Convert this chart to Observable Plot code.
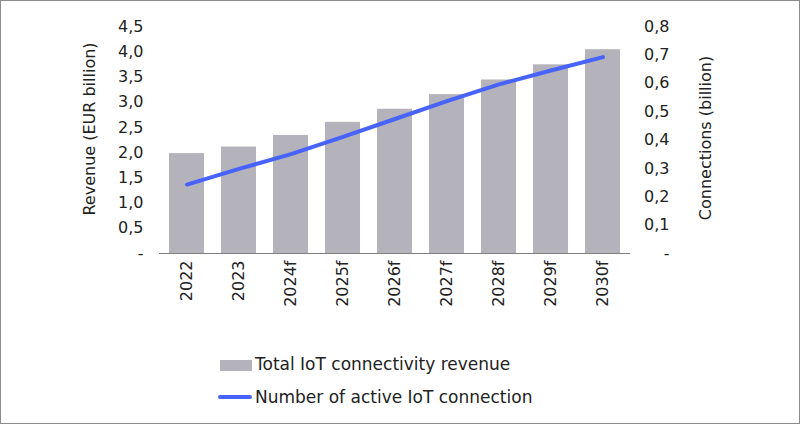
<!DOCTYPE html>
<html>
<head>
<meta charset="utf-8">
<script src="https://cdn.jsdelivr.net/npm/d3@7"></script>
<script src="https://cdn.jsdelivr.net/npm/@observablehq/plot@0.6"></script>
<style>
  html, body { margin: 0; padding: 0; background: #fff; }
  #wrap { position: relative; width: 800px; height: 424px; overflow: hidden; font-family: "DejaVu Sans", sans-serif; color: #222; }
  #frame { position: absolute; left: 0; top: 0; width: 800px; height: 424px; box-sizing: border-box; border: 1px solid #8c8c8c; pointer-events: none; }
  .leg { position: absolute; left: 0; font-size: 17px; line-height: 20px; white-space: nowrap; }
  .sw { position: absolute; }
</style>
</head>
<body>
<div id="wrap">
  <div id="chart"></div>
  <div id="legend"></div>
  <div id="frame"></div>
</div>
<script>
const years = ["2022", "2023", "2024f", "2025f", "2026f", "2027f", "2028f", "2029f", "2030f"];
const revenue = [1.98, 2.11, 2.34, 2.60, 2.86, 3.15, 3.44, 3.74, 4.04];
const connections = [0.243, 0.298, 0.350, 0.411, 0.474, 0.537, 0.596, 0.645, 0.692];
const leftTicks = [0, 0.5, 1, 1.5, 2, 2.5, 3, 3.5, 4, 4.5];
const rightTicks = [0, 0.1, 0.2, 0.3, 0.4, 0.5, 0.6, 0.7, 0.8];
const seriesNames = ["Total IoT connectivity revenue", "Number of active IoT connection"];
const leftTitle = "Revenue (EUR billion)";
const rightTitle = "Connections (billion)";

const barColor = "#b4b2bb";
const lineColor = "#4763fb";
const ratio = 4.5 / 0.8;

const fmt = (v, d) => v === 0 ? "-" : v.toFixed(d).replace(".", ",");

const rows = years.map((y, i) => ({year: y, rev: revenue[i], conn: connections[i] * ratio}));

const chart = Plot.plot({
  width: 800,
  height: 340,
  marginLeft: 159,
  marginRight: 170,
  marginTop: 26,
  marginBottom: 87,
  style: {fontFamily: "DejaVu Sans, sans-serif", fontSize: "16px", color: "#222", background: "transparent"},
  x: {domain: years, paddingInner: 0.33, paddingOuter: 0.16, label: null},
  y: {domain: [0, 4.5], label: null},
  marks: [
    Plot.barY(rows, {x: "year", y: "rev", fill: barColor}),
    Plot.ruleY([0], {stroke: "#7f7f7f", strokeWidth: 1.2}),
    Plot.lineY(rows, {x: "year", y: "conn", stroke: lineColor, strokeWidth: 4, strokeLinecap: "round"}),
    Plot.axisX({tickRotate: -90, tickSize: 0, tickPadding: 7, label: null, fill: "#222"}),
    Plot.axisY(leftTicks, {anchor: "left", tickSize: 0, tickPadding: 16, tickFormat: d => fmt(d, 1), label: null, fill: "#222"}),
    Plot.axisY(rightTicks.map(t => t * ratio), {anchor: "right", tickSize: 0, tickPadding: 39, textAnchor: "end", tickFormat: d => fmt(Math.round(d / ratio * 10) / 10, 1), label: null, fill: "#222"}),
    Plot.text([leftTitle], {frameAnchor: "left", textAnchor: "middle", dx: -70, dy: -11, rotate: -90, fill: "#222", fontSize: 16}),
    Plot.text([rightTitle], {frameAnchor: "right", textAnchor: "middle", dx: 75, dy: -2, rotate: -90, fill: "#222", fontSize: 16})
  ]
});
document.getElementById("chart").appendChild(chart);

const legend = document.getElementById("legend");
legend.innerHTML = `
  <div class="sw" style="left:220px; top:360px; width:32px; height:11px; background:${barColor}"></div>
  <div class="leg" style="left:255px; top:354px;">${seriesNames[0]}</div>
  <div class="sw" style="left:218px; top:395px; width:34px; height:4px; border-radius:2px; background:${lineColor}"></div>
  <div class="leg" style="left:255px; top:387px;">${seriesNames[1]}</div>
`;
</script>
</body>
</html>
